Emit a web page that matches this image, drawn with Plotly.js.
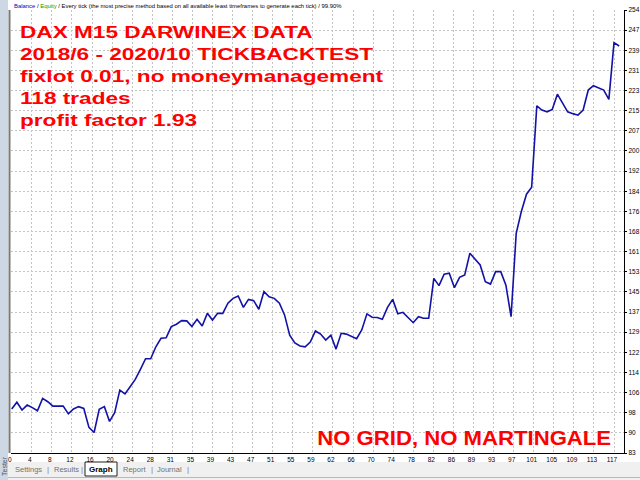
<!DOCTYPE html>
<html>
<head>
<meta charset="utf-8">
<script src="https://cdn.plot.ly/plotly-3.0.1.min.js"></script>
<style>
  html, body { margin: 0; padding: 0; background: #ffffff; }
  #chart { width: 640px; height: 480px; }
</style>
</head>
<body>
<div id="chart"></div>
<script>
// balance after each trade (trade 0 = start)
const balance = [
  100, 102.6, 99.6, 101.5, 100.5, 99.3, 104.1, 102.8, 101.1, 101.1,
  101.1, 98.1, 100, 100.9, 100.2, 92.9, 90.9, 99.9, 100.9, 95.2,
  98.6, 107.3, 105.8, 108.6, 111.4, 115.3, 119.4, 119.4, 124, 127.3,
  127.5, 131.8, 132.7, 134.1, 134, 131.8, 134.6, 132, 136.9, 134.3,
  136.9, 136.9, 140.8, 142.7, 143.6, 139.2, 142.3, 141.8, 138.5, 145.3,
  143.3, 142.7, 140.8, 136.3, 128.5, 125.5, 124.3, 124, 125.8, 130.1,
  128.9, 126.6, 128.5, 123.1, 129.2, 128.9, 127.9, 127.1, 130.5, 136.7,
  135.4, 135.3, 134.6, 139.2, 142.3, 136.7, 137.3, 135.4, 133.3, 135.6,
  135, 135, 150.4, 147.6, 152, 152.4, 146.8, 150.8, 151.7, 160.1,
  157.8, 155.6, 149.1, 148.2, 153, 153, 147.8, 135.6, 167.8, 176.2,
  182.9, 185.6, 217, 215.4, 214.7, 215.6, 221.5, 217.9, 214.7, 214,
  213.4, 215.4, 223.1, 224.8, 224.1, 223.1, 219.5, 241.4, 240.1
];
const trades = balance.map((v, i) => i);

const xTickLabels = ["0", "4", "8", "12", "16", "20", "24", "28", "31", "35", "39", "43", "47", "51", "55",
  "59", "62", "66", "70", "74", "78", "82", "86", "89", "93", "97", "101", "105", "109", "113", "117"];
const yTickLabels = ["83", "90", "98", "106", "114", "122", "129", "137", "145", "153", "161", "168",
  "176", "184", "192", "200", "207", "215", "223", "231", "239", "247", "254"];

const noteLines = [
  "DAX M15 DARWINEX DATA",
  "2018/6 - 2020/10 TICKBACKTEST",
  "fixlot 0.01, no moneymanagement",
  "118 trades",
  "profit factor 1.93"
];
const bottomNote = "NO GRID, NO MARTINGALE";
const headerText = '<span style="color:#0000c0">Balance</span> / <span style="color:#00a000">Equity</span> / Every tick (the most precise method based on all available least timeframes to generate each tick) / 99.90%';
const tabs = ["Settings", "Results", "Graph", "Report", "Journal"];

// plot area in pixels: left 11, right 624, top 10, bottom 453
const L = 11, R = 16, T = 10, B = 27;
const PW = 640 - L - R, PH = 480 - T - B;
const px = p => (p - L) / PW;
const py = p => 1 - (p - T) / PH;

const xStep = 3.9;
const yStep = (254 - 83) / 22;
const FONT = "Liberation Sans, Arial, sans-serif";

const annotations = [];
// the red notes: one block, widened afterwards to match the screenshot
annotations.push({
  text: noteLines.join("<br>"), xref: "paper", yref: "paper", align: "left",
  x: px(18), y: py(76.5), xanchor: "left", yanchor: "middle", showarrow: false,
  font: { family: FONT, size: 17, color: "#ff0000", weight: "bold" }
});
annotations.push({
  text: bottomNote, xref: "paper", yref: "paper",
  x: px(613), y: py(437.5), xanchor: "right", yanchor: "middle", showarrow: false,
  font: { family: FONT, size: 20.5, color: "#ff0000", weight: "bold" }
});
annotations.push({
  text: headerText, xref: "paper", yref: "paper",
  x: px(12), y: py(6), xanchor: "left", yanchor: "middle", showarrow: false,
  font: { family: FONT, size: 5.9, color: "#000000" }
});
annotations.push({
  text: "Tester", xref: "paper", yref: "paper", textangle: -90,
  x: px(4), y: py(466), xanchor: "center", yanchor: "middle", showarrow: false,
  font: { family: FONT, size: 7, color: "#505a66" }
});

// tab labels and separators
const tabCenters = [28.5, 66, 101, 134, 169.5];
tabs.forEach((t, i) => {
  const active = t === "Graph";
  annotations.push({
    text: active ? "<b>" + t + "</b>" : t, xref: "paper", yref: "paper",
    x: px(tabCenters[i]), y: py(469.5), xanchor: "center", yanchor: "middle", showarrow: false,
    font: { family: FONT, size: active ? 8 : 7.5, color: active ? "#000000" : "#707070" }
  });
});
[48, 82, 152, 188].forEach(sx => {
  annotations.push({
    text: "|", xref: "paper", yref: "paper",
    x: px(sx), y: py(469.5), xanchor: "center", yanchor: "middle", showarrow: false,
    font: { family: FONT, size: 8, color: "#808080" }
  });
});

const shapes = [
  // left tester strip
  { type: "rect", xref: "paper", yref: "paper", x0: px(0), x1: px(8), y0: py(480), y1: py(0),
    fillcolor: "#cdd8e4", line: { width: 0 }, layer: "below" },
  { type: "line", xref: "paper", yref: "paper", x0: px(9.5), x1: px(9.5), y0: py(453), y1: py(10),
    line: { color: "#7a7a7a", width: 2 }, layer: "below" },
  // tab bar
  { type: "rect", xref: "paper", yref: "paper", x0: px(8), x1: px(640), y0: py(480), y1: py(462),
    fillcolor: "#f0f0f0", line: { width: 0 }, layer: "below" },
  { type: "line", xref: "paper", yref: "paper", x0: px(8), x1: px(640), y0: py(477.5), y1: py(477.5),
    line: { color: "#b8b8b8", width: 1 }, layer: "below" },
  // active tab
  { type: "rect", xref: "paper", yref: "paper", x0: px(85), x1: px(117), y0: py(476), y1: py(462),
    fillcolor: "#ffffff", line: { color: "#202020", width: 1 }, layer: "below" }
];

const traces = [{
  x: trades, y: balance, type: "scatter", mode: "lines", name: "Balance",
  line: { color: "#1212a6", width: 1.6 }, hoverinfo: "skip"
}];

const layout = {
  width: 640, height: 480,
  margin: { l: L, r: R, t: T, b: B, pad: 0 },
  paper_bgcolor: "#ffffff", plot_bgcolor: "#ffffff",
  showlegend: false,
  xaxis: {
    range: [-0.14, 118.94], fixedrange: true,
    tickvals: xTickLabels.map((t, k) => k * xStep), ticktext: xTickLabels,
    showgrid: true, gridcolor: "#c4c4c4", gridwidth: 1, griddash: "2px,2px",
    showline: true, linecolor: "#000000", linewidth: 1.2,
    zeroline: false, ticks: "", ticklen: 0, ticklabelstandoff: 0, ticklabelshift: -2,
    tickfont: { family: FONT, size: 6.5, color: "#000000" }
  },
  yaxis: {
    side: "right", range: [83, 254], fixedrange: true,
    tickvals: yTickLabels.map((t, k) => 83 + k * yStep), ticktext: yTickLabels,
    showgrid: true, gridcolor: "#c4c4c4", gridwidth: 1, griddash: "2px,2px",
    showline: true, linecolor: "#000000", linewidth: 1.2,
    zeroline: false, ticks: "outside", ticklen: 2, tickcolor: "#000000",
    tickfont: { family: FONT, size: 6.5, color: "#000000" }
  },
  shapes: shapes,
  annotations: annotations
};

Plotly.newPlot("chart", traces, layout, { displayModeBar: false, staticPlot: true }).then(gd => {
  // the screenshot's red texts are stretched sideways
  gd.querySelectorAll("text.annotation-text").forEach(el => {
    const s = el.textContent;
    if (s.indexOf("DAX M15") === 0) {
      el.style.transformBox = "fill-box";
      el.style.transformOrigin = "left center";
      el.style.transform = "scaleX(1.33)";
    } else if (s === bottomNote) {
      el.style.transformBox = "fill-box";
      el.style.transformOrigin = "right center";
      el.style.transform = "scaleX(1.08)";
    }
  });
});
</script>
</body>
</html>
